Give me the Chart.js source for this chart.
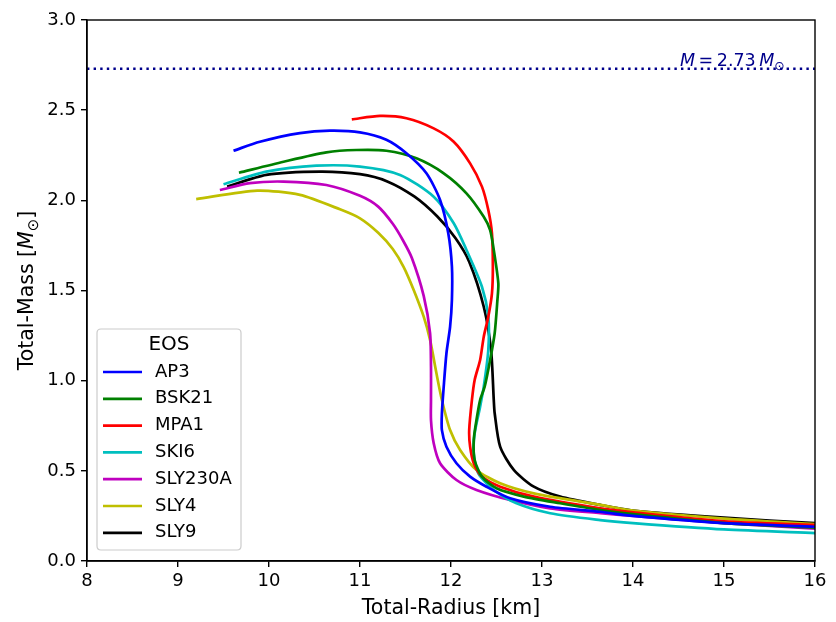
<!DOCTYPE html>
<html><head><meta charset="utf-8">
<script src="https://cdn.jsdelivr.net/npm/chart.js@4/dist/chart.umd.min.js"></script>
<style>html,body{margin:0;padding:0;background:#fff}</style>
</head><body>
<canvas id="c" width="836" height="622" style="width:836px;height:622px;display:block"></canvas>
<script>
// ---- data ----
const eosNames = ["AP3", "BSK21", "MPA1", "SKI6", "SLY230A", "SLY4", "SLY9"];
const eosColors = ["#0000ff", "#008000", "#ff0000", "#00bfbf", "#bf00bf", "#bfbf00", "#000000"];

const ap3R = [9.61, 9.90, 10.34, 10.67, 11.00, 11.29, 11.51, 11.73, 11.88, 11.97, 12.01, 12.01, 11.99, 11.95, 11.92, 11.90, 11.90, 11.95, 12.06, 12.21, 12.39, 12.65, 13.09, 13.64, 14.0, 15.0, 16.0];
const ap3M = [2.275, 2.325, 2.373, 2.386, 2.377, 2.336, 2.261, 2.150, 2.002, 1.817, 1.632, 1.447, 1.299, 1.152, 0.967, 0.819, 0.726, 0.634, 0.542, 0.468, 0.412, 0.348, 0.301, 0.273, 0.25, 0.21, 0.19];

const bsk21R = [9.67, 10.16, 10.63, 10.96, 11.29, 11.62, 11.92, 12.17, 12.36, 12.43, 12.47, 12.52, 12.51, 12.48, 12.43, 12.37, 12.32, 12.28, 12.25, 12.26, 12.34, 12.50, 12.80, 13.20, 13.64, 14.0, 15.0, 16.0];
const bsk21M = [2.153, 2.214, 2.266, 2.279, 2.275, 2.233, 2.150, 2.039, 1.909, 1.835, 1.725, 1.540, 1.447, 1.263, 1.115, 0.967, 0.893, 0.782, 0.671, 0.560, 0.468, 0.403, 0.357, 0.320, 0.283, 0.26, 0.21, 0.185];

const mpa1R = [10.91, 11.22, 11.51, 11.81, 12.03, 12.21, 12.34, 12.41, 12.45, 12.46, 12.45, 12.41, 12.36, 12.32, 12.26, 12.23, 12.20, 12.21, 12.25, 12.34, 12.54, 12.91, 13.64, 14.0, 15.0, 16.0];
const mpa1M = [2.449, 2.468, 2.455, 2.399, 2.325, 2.205, 2.076, 1.946, 1.817, 1.632, 1.484, 1.355, 1.244, 1.115, 1.004, 0.893, 0.726, 0.634, 0.542, 0.468, 0.412, 0.357, 0.292, 0.27, 0.22, 0.20];

const ski6R = [9.50, 9.97, 10.52, 11.00, 11.44, 11.81, 12.03, 12.17, 12.34, 12.41, 12.41, 12.36, 12.32, 12.26, 12.25, 12.30, 12.47, 12.72, 13.09, 13.64, 14.0, 15.0, 16.0];
const ski6M = [2.089, 2.159, 2.192, 2.187, 2.141, 2.020, 1.873, 1.725, 1.521, 1.355, 1.170, 0.967, 0.856, 0.708, 0.597, 0.486, 0.394, 0.320, 0.265, 0.227, 0.21, 0.175, 0.155];

const sly230aR = [9.46, 9.79, 10.16, 10.63, 11.00, 11.20, 11.36, 11.47, 11.57, 11.70, 11.77, 11.78, 11.78, 11.78, 11.81, 11.88, 12.06, 12.28, 12.65, 13.09, 13.64, 14.0, 15.0, 16.0];
const sly230aM = [2.057, 2.095, 2.104, 2.085, 2.025, 1.965, 1.870, 1.780, 1.680, 1.470, 1.263, 1.078, 0.893, 0.782, 0.653, 0.542, 0.449, 0.394, 0.338, 0.292, 0.265, 0.25, 0.21, 0.18];

const sly4R = [9.20, 9.87, 10.34, 10.78, 11.00, 11.20, 11.36, 11.48, 11.59, 11.70, 11.77, 11.84, 11.90, 11.99, 12.10, 12.28, 12.54, 12.91, 13.64, 14.0, 15.0, 16.0];
const sly4M = [2.007, 2.054, 2.030, 1.950, 1.900, 1.820, 1.730, 1.630, 1.503, 1.355, 1.226, 1.041, 0.893, 0.726, 0.616, 0.505, 0.431, 0.375, 0.311, 0.28, 0.235, 0.205];

const sly9R = [9.54, 9.97, 10.56, 11.00, 11.30, 11.60, 11.85, 12.05, 12.20, 12.36, 12.44, 12.47, 12.48, 12.54, 12.69, 12.91, 13.20, 13.64, 14.0, 15.0, 16.0];
const sly9M = [2.076, 2.141, 2.159, 2.145, 2.105, 2.020, 1.910, 1.790, 1.660, 1.410, 1.170, 0.893, 0.819, 0.634, 0.505, 0.412, 0.357, 0.311, 0.28, 0.24, 0.21];

const radiusList = [ap3R, bsk21R, mpa1R, ski6R, sly230aR, sly4R, sly9R];
const massList = [ap3M, bsk21M, mpa1M, ski6M, sly230aM, sly4M, sly9M];

const maxMass = 2.73;
const radiusRange = [8, 16];
const massRange = [0, 3];

// ---- chart ----
const FONT = "'DejaVu Sans', sans-serif";
const FS = 18;
const LFS = 20.5;

function pts(xs, ys) { return xs.map((x, i) => ({ x: x, y: ys[i] })); }

const datasets = eosNames.map((n, i) => ({
  label: n,
  data: pts(radiusList[i], massList[i]),
  borderColor: eosColors[i],
  backgroundColor: eosColors[i],
  borderWidth: 2.7,
  pointRadius: 0,
  showLine: true,
  tension: 0.25,
  fill: false
}));
datasets.push({
  label: "limit",
  data: [{ x: radiusRange[0], y: maxMass }, { x: radiusRange[1], y: maxMass }],
  borderColor: "#00008b",
  borderWidth: 2.4,
  borderDash: [2.4, 4.2],
  pointRadius: 0,
  showLine: true,
  tension: 0
});

function drawRich(ctx, parts, x, y, align) {
  let widths = parts.map(p => { ctx.font = (p[1] === 'i' ? 'italic ' : '') + p[2] + 'px ' + FONT; return ctx.measureText(p[0]).width; });
  let total = widths.reduce((a, b) => a + b, 0);
  let cx = align === 'center' ? x - total / 2 : x;
  ctx.textBaseline = 'alphabetic';
  ctx.textAlign = 'left';
  parts.forEach((p, i) => {
    ctx.font = (p[1] === 'i' ? 'italic ' : '') + p[2] + 'px ' + FONT;
    ctx.fillText(p[0], cx, y + (p[3] || 0));
    cx += widths[i];
  });
}

const overlay = {
  id: 'overlay',
  afterDatasetsDraw(chart) {
    const ctx = chart.ctx, a = chart.chartArea;
    ctx.save();
    ctx.strokeStyle = '#000'; ctx.lineWidth = 1.4;
    ctx.strokeRect(a.left, a.top, a.right - a.left, a.bottom - a.top);
    // annotation
    ctx.fillStyle = '#00008b';
    drawRich(ctx, [['M', 'i', 17.5], ['\u2009=\u20092.73\u2009', 'n', 17.5], ['M', 'i', 17.5], ['\u2299', 'n', 12.5, 4]], 680, 66, 'left');
    // y title
    ctx.save();
    ctx.translate(33, (a.top + a.bottom) / 2);
    ctx.rotate(-Math.PI / 2);
    ctx.fillStyle = '#000';
    drawRich(ctx, [['Total-Mass [', 'n', LFS], ['M', 'i', LFS], ['\u2299', 'n', 15, 4.5], [']', 'n', LFS]], 0, 0, 'center');
    ctx.restore();
    // legend
    const lx = 97, ly = 329, lw = 144, lh = 221, r = 4;
    ctx.beginPath();
    ctx.moveTo(lx + r, ly); ctx.lineTo(lx + lw - r, ly); ctx.quadraticCurveTo(lx + lw, ly, lx + lw, ly + r);
    ctx.lineTo(lx + lw, ly + lh - r); ctx.quadraticCurveTo(lx + lw, ly + lh, lx + lw - r, ly + lh);
    ctx.lineTo(lx + r, ly + lh); ctx.quadraticCurveTo(lx, ly + lh, lx, ly + lh - r);
    ctx.lineTo(lx, ly + r); ctx.quadraticCurveTo(lx, ly, lx + r, ly);
    ctx.closePath();
    ctx.fillStyle = 'rgba(255,255,255,0.8)'; ctx.fill();
    ctx.strokeStyle = '#cccccc'; ctx.lineWidth = 1.2; ctx.stroke();
    ctx.fillStyle = '#000';
    ctx.font = '20px ' + FONT; ctx.textAlign = 'center'; ctx.textBaseline = 'middle';
    ctx.fillText('EOS', lx + lw / 2, 345);
    ctx.font = FS + 'px ' + FONT;
    ctx.textAlign = 'left';
    eosNames.forEach((n, i) => {
      const yy = 372 + i * 26.8;
      ctx.strokeStyle = eosColors[i]; ctx.lineWidth = 2.7;
      ctx.beginPath(); ctx.moveTo(103, yy); ctx.lineTo(142, yy); ctx.stroke();
      ctx.fillStyle = '#000';
      ctx.fillText(n, 155, yy);
    });
    ctx.restore();
  }
};

new Chart(document.getElementById('c'), {
  type: 'scatter',
  data: { datasets: datasets },
  options: {
    responsive: false,
    animation: false,
    devicePixelRatio: 1,
    layout: { padding: { left: 0, top: 20, right: 21, bottom: 0 } },
    plugins: { legend: { display: false }, tooltip: { enabled: false } },
    scales: {
      x: {
        type: 'linear', min: radiusRange[0], max: radiusRange[1],
        afterFit: s => { s.height = 61; },
        ticks: { stepSize: 1, color: '#000', font: { family: FONT, size: FS }, padding: 4, maxRotation: 0 },
        grid: { drawOnChartArea: false, drawTicks: true, tickLength: 6, color: '#000', lineWidth: 1.4 },
        border: { display: true, color: '#000', width: 1.4 },
        title: { display: true, text: 'Total-Radius [km]', color: '#000', font: { family: FONT, size: LFS }, padding: { top: 0, bottom: 1 } }
      },
      y: {
        type: 'linear', min: massRange[0], max: massRange[1],
        afterFit: s => { s.width = 87; },
        ticks: { stepSize: 0.5, color: '#000', font: { family: FONT, size: FS }, padding: 5, callback: v => v.toFixed(1) },
        grid: { drawOnChartArea: false, drawTicks: true, tickLength: 6, color: '#000', lineWidth: 1.4 },
        border: { display: true, color: '#000', width: 1.4 }
      }
    }
  },
  plugins: [overlay]
});
</script>
</body></html>
